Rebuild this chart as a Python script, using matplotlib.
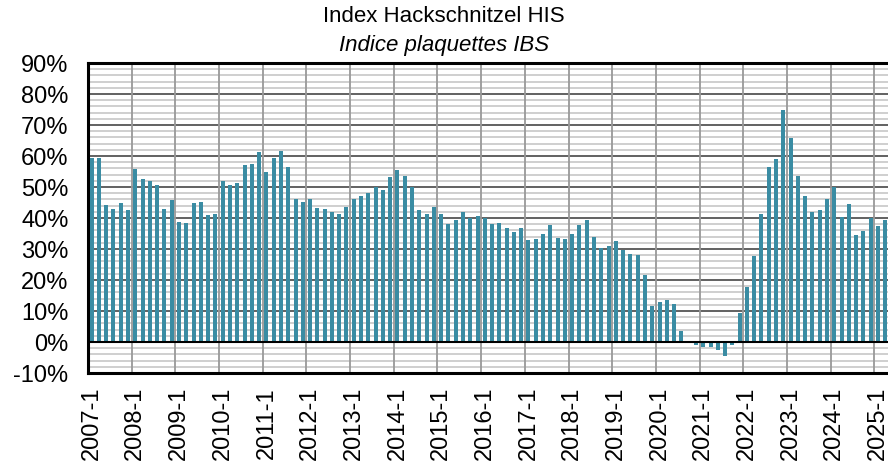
import matplotlib.pyplot as plt
import numpy as np

plt.rcParams['font.family'] = ['Liberation Sans', 'DejaVu Sans']

# Zweimonatliche Werte (Monate 1,3,5,7,9,11), 2007-1 bis 2025-3
years = list(range(2007, 2026))
months = [1, 3, 5, 7, 9, 11]

values = [
    59.4, 59.4, 44.1, 42.8, 44.7, 42.6,   # 2007
    55.8, 52.7, 51.8, 50.5, 43.0, 45.9,   # 2008
    38.6, 38.5, 44.8, 45.2, 41.0, 41.4,   # 2009
    51.8, 50.8, 51.4, 57.1, 57.3, 61.4,   # 2010
    54.7, 59.4, 61.6, 56.3, 46.1, 45.2,   # 2011
    46.1, 43.2, 43.0, 41.9, 41.4, 43.6,   # 2012
    46.1, 47.0, 48.1, 50.0, 49.1, 53.3,   # 2013
    55.6, 53.5, 50.0, 42.5, 41.2, 43.4,   # 2014
    41.2, 38.1, 39.4, 42.0, 40.0, 40.7,   # 2015
    40.0, 38.1, 38.4, 36.8, 35.4, 36.8,   # 2016
    32.9, 33.1, 34.8, 37.8, 33.5, 33.3,   # 2017
    34.8, 37.8, 39.4, 34.0, 30.3, 31.1,   # 2018
    32.5, 29.6, 28.4, 28.2, 21.7, 11.5,   # 2019
    13.0, 13.4, 12.4, 3.6, 0.0, -1.0,     # 2020
    -1.6, -1.7, -2.7, -4.4, -0.9, 9.5,    # 2021
    17.9, 27.9, 41.2, 56.6, 59.0, 74.9,   # 2022
    65.9, 53.4, 47.0, 41.8, 42.6, 46.0,   # 2023
    50.0, 40.3, 44.6, 34.5, 35.9, 40.0,   # 2024
    37.4, 39.5,                           # 2025
]

labels = [f"{y}-{m}" for y in years for m in months][:len(values)]
x = np.arange(len(values))

fig = plt.figure(figsize=(8.88, 4.73), dpi=100)
ax = fig.add_axes([88/888, 1-373/473, 1.0 - 88/888 + 0.001, 310/473])

ax.bar(x, values, width=0.55, color='#3A8CA3', zorder=3)

ax.set_xlim(-0.5, len(values) - 0.5)
ax.set_ylim(-10, 90)

# Gitter
for v in np.arange(-10, 90, 2):
    if v % 10 != 0:
        ax.axhline(v, color='#cfcfcf', lw=1.4, zorder=1)
for v in range(-10, 91, 10):
    ax.axhline(v, color='#555555', lw=1.3, zorder=2)
ax.axhline(0, color='black', lw=1.5, zorder=4)
for i in range(0, len(values), 6):
    ax.axvline(i - 0.5, color='#999999', lw=1.3, zorder=2)

ax.set_yticks(range(-10, 91, 10))
ax.set_yticklabels([f"{v}%" for v in range(-10, 91, 10)], fontsize=17)
ax.set_xticks(x[::6])
ax.set_xticklabels(labels[::6], rotation=90, fontsize=17)
ax.tick_params(axis='both', length=0)
ax.tick_params(axis='y', pad=14)
ax.tick_params(axis='x', pad=10)

for s in ['left', 'top', 'bottom']:
    ax.spines[s].set_linewidth(2.2)
    ax.spines[s].set_color('black')
ax.spines['right'].set_visible(False)

fig.text(0.5, 1 - 17/473, 'Index Hackschnitzel HIS', ha='center', va='center', fontsize=16)
fig.text(0.5, 1 - 45/473, 'Indice plaquettes IBS', ha='center', va='center',
         fontsize=16, style='italic')

fig.savefig('out.png', dpi=100)
